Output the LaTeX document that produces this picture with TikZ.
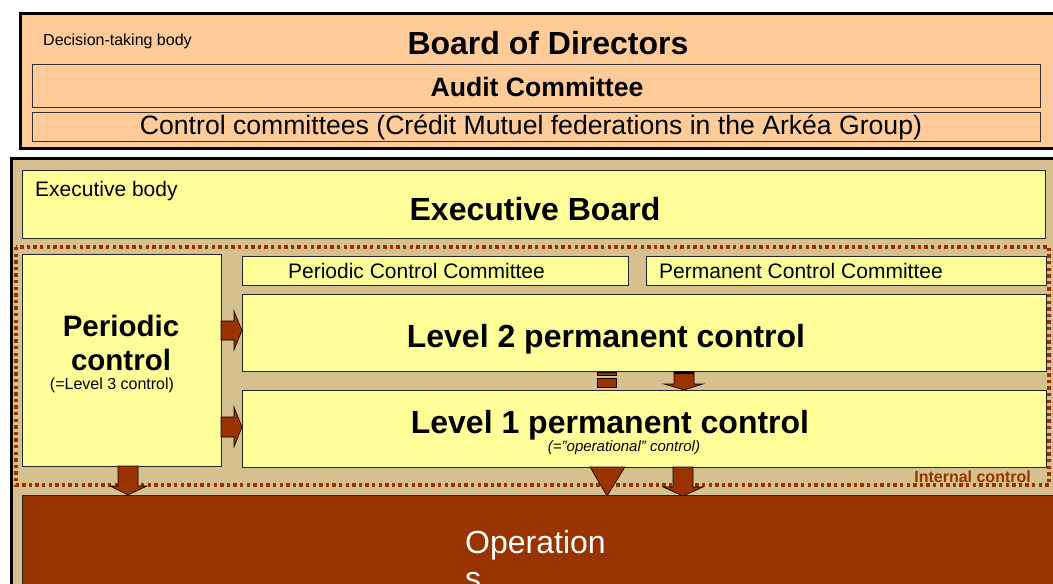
\documentclass[tikz,border=0pt]{standalone}
\usepackage{fontspec}
\setmainfont{Liberation Sans}
\definecolor{peach}{HTML}{FFCC99}
\definecolor{ylw}{HTML}{FFFF99}
\definecolor{tan}{HTML}{D6C08E}
\definecolor{brn}{HTML}{993300}
\begin{document}
\begin{tikzpicture}[x=1pt,y=-1pt,
  frame/.style={draw=black, line width=3pt, inner sep=0pt},
  pbox/.style={draw=black!80, line width=0.9pt, fill=peach, inner sep=0pt},
  ybox/.style={draw=black!85, line width=0.9pt, fill=ylw, inner sep=0pt},
  blk/.style={fill=brn, draw=black, line width=0.6pt, line join=miter},
  txt/.style={inner sep=0pt, text=black},
  big/.style={font=\fontsize{32}{38}\selectfont\bfseries},
  mid/.style={font=\fontsize{26.6}{31}\selectfont},
  sml/.style={font=\fontsize{21}{25}\selectfont},
  tiny/.style={font=\fontsize{16}{19}\selectfont}]
\useasboundingbox (0,0) rectangle (1053,584);
\clip (0,0) rectangle (1053,584);
\fill[white] (0,0) rectangle (1053,584);

% Board of directors frame
\node[frame, fill=peach, minimum width=1040pt, minimum height=135pt] (board) at (540,80.5) {};
\node[pbox, minimum width=1008pt, minimum height=43pt] (audit) at (536,85.5) {};
\node[pbox, minimum width=1008pt, minimum height=29pt] (ctrlc) at (536,126.5) {};
\node[txt, tiny, anchor=west] (dtb) at (43,41) {Decision-taking body};
\node[txt, big] (bod) at (548,43) {Board of Directors};
\node[txt, font=\fontsize{26.6}{31}\selectfont\bfseries] (audt) at (537,87) {Audit Committee};
\node[txt, mid] (cct) at (531,127) {Control committees (Crédit Mutuel federations in the Arkéa Group)};

% Executive frame
\node[frame, fill=tan, minimum width=1049pt, minimum height=442pt] (exec) at (535.5,379) {};
\node[ybox, minimum width=1023pt, minimum height=68pt] (eb) at (533.5,204) {};
\node[txt, sml, anchor=west] (ebt) at (35,191) {Executive body};
\node[txt, big] (ebb) at (535,209) {Executive Board};

% internal control dotted frame
\draw[brn, line width=3.2pt, dash pattern=on 3.4pt off 3.2pt] (16,247) rectangle (1049,485);
\node[txt, anchor=east, text=brn, font=\fontsize{16}{19}\selectfont\bfseries] (ic) at (1031,477) {Internal control};

% boxes
\node[ybox, minimum width=199pt, minimum height=212pt] (per) at (121.5,360) {};
\node[ybox, minimum width=386pt, minimum height=29pt] (pcc) at (435,270.5) {};
\node[ybox, minimum width=400pt, minimum height=29pt] (mcc) at (846,270.5) {};
\node[ybox, minimum width=804pt, minimum height=77pt] (lv2) at (644,332.5) {};
\node[ybox, minimum width=804pt, minimum height=77pt] (lv1) at (644,428.5) {};
\node[draw=black!85, line width=0.9pt, fill=brn, minimum width=1038pt, minimum height=105pt, inner sep=0pt] (ops) at (541,547.5) {};

% texts
\node[txt, sml] (pcct) at (416.5,271) {Periodic Control Committee};
\node[txt, sml] (mcct) at (801,271) {Permanent Control Committee};
\node[txt, big] (lv2t) at (606,339) {Level 2 permanent control};
\node[txt, big] (lv1t) at (610,425) {Level 1 permanent control};
\node[txt, font=\fontsize{15}{18}\selectfont\itshape] (opc) at (624,448) {(=”operational” control)};
\node[txt, font=\fontsize{29.5}{35}\selectfont\bfseries, align=center] (pert) at (121,343) {Periodic\\[-1pt]control};
\node[txt, tiny] (l3) at (112,385) {(=Level 3 control)};
\node[txt, anchor=north west, text=white, align=left, font=\fontsize{32}{36}\selectfont] (opst) at (465,530) {Operation\\s};

% block arrows
\draw[blk] (221,321) -- (234,321) -- (234,311) -- (242,330.5) -- (234,350) -- (234,340) -- (221,340) -- cycle;
\draw[blk] (221,417) -- (234,417) -- (234,407) -- (242,427) -- (234,447) -- (234,437) -- (221,437) -- cycle;
\draw[blk] (597,372) rectangle (616,375);
\draw[blk] (597,378) rectangle (616,387);
\draw[blk] (674,371.5) -- (694,371.5) -- (694,384) -- (703,384) -- (684,390) -- (664,384) -- (674,384) -- cycle;
\draw[black, line width=2pt] (674,372.5) -- (694,372.5);
\draw[blk] (118,466) -- (138,466) -- (138,486) -- (147,486) -- (128,495) -- (110,486) -- (118,486) -- cycle;
\draw[blk] (673,467) -- (693,467) -- (693,487) -- (703,487) -- (683,496) -- (663,487) -- (673,487) -- cycle;
\draw[blk] (590,467) -- (625,467) -- (607,496) -- cycle;
\end{tikzpicture}
\end{document}
